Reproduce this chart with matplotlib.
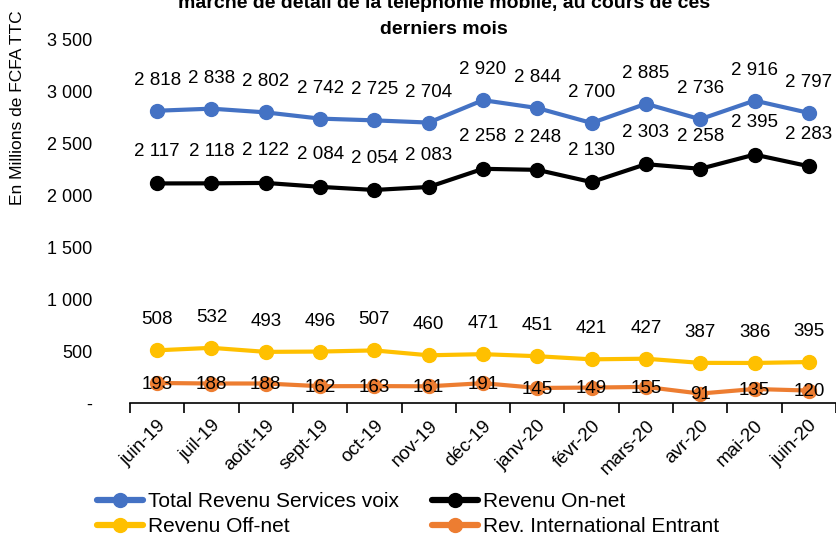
import matplotlib.pyplot as plt

plt.rcParams['font.family'] = ['Liberation Sans', 'DejaVu Sans']

# categories and series
mois = ['juin-19', 'juil-19', 'août-19', 'sept-19', 'oct-19', 'nov-19', 'déc-19',
        'janv-20', 'févr-20', 'mars-20', 'avr-20', 'mai-20', 'juin-20']
total_voix = [2818, 2838, 2802, 2742, 2725, 2704, 2920, 2844, 2700, 2885, 2736, 2916, 2797]
on_net = [2117, 2118, 2122, 2084, 2054, 2083, 2258, 2248, 2130, 2303, 2258, 2395, 2283]
off_net = [508, 532, 493, 496, 507, 460, 471, 451, 421, 427, 387, 386, 395]
intl_entrant = [193, 188, 188, 162, 163, 161, 191, 145, 149, 155, 91, 135, 120]

def fmt(v):
    return '{:,}'.format(v).replace(',', ' ')

fig = plt.figure(figsize=(8.37, 5.43), dpi=100)
ax = fig.add_axes([130 / 837, 140 / 543, 706 / 837, 363 / 543])

x = list(range(len(mois)))
series = [
    (total_voix, '#4472C4', 'Total Revenu Services voix', 22),
    (on_net, '#000000', 'Revenu On-net', 23),
    (off_net, '#FFC000', 'Revenu Off-net', 22),
    (intl_entrant, '#ED7D31', 'Rev. International Entrant', -1),
]
lines = {}
for vals, col, lab, off in series:
    ln, = ax.plot(x, vals, color=col, lw=3, marker='o', ms=10, label=lab,
                  solid_capstyle='round')
    lines[lab] = ln
    for xi, v in zip(x, vals):
        ax.annotate(fmt(v), (xi, v), xytext=(0, off), textcoords='offset points',
                    ha='center', va='center', fontsize=13.5)

ax.set_xlim(-0.5, 12.5)
ax.set_ylim(0, 3500)
ax.set_yticks(range(0, 3501, 500))
ax.set_yticklabels(['-'] + [fmt(v) for v in range(500, 3501, 500)], fontsize=13)
ax.tick_params(axis='y', length=0, pad=27)

ax.set_xticks([i - 0.5 for i in range(14)], minor=True)
ax.set_xticks(x)
ax.set_xticklabels(mois, rotation=45, ha='right', rotation_mode='anchor', fontsize=13.5)
ax.tick_params(axis='x', which='major', length=0, pad=10)
ax.tick_params(axis='x', which='minor', length=7, width=1.2, direction='out')

for s in ['top', 'right', 'left']:
    ax.spines[s].set_visible(False)
ax.spines['bottom'].set_linewidth(1.2)

fig.text(18 / 837, 1 - 108 / 543, 'En Millions de FCFA TTC', rotation=90,
         ha='center', va='center', fontsize=12.5)

# title, top line partly cropped as in the source image
fig.text(444 / 837, 1 - 3 / 543,
         'marché de détail de la téléphonie mobile, au cours de ces',
         ha='center', va='center', fontsize=14, fontweight='bold')
fig.text(444 / 837, 1 - 30 / 543, 'derniers mois',
         ha='center', va='center', fontsize=14, fontweight='bold')

# row-wise order like the original legend
order = ['Total Revenu Services voix', 'Revenu Off-net',
         'Revenu On-net', 'Rev. International Entrant']
leg = fig.legend([lines[k] for k in order], order, loc='upper left',
                 bbox_to_anchor=(97 / 837, 1 - 492 / 543), ncol=2,
                 frameon=False, fontsize=15, handlelength=2.2, handletextpad=0.25,
                 columnspacing=1.6, labelspacing=0.3, borderpad=0, borderaxespad=0)
for h in leg.legend_handles:
    h.set_linewidth(4.5)

fig.savefig('out.png', dpi=100)
